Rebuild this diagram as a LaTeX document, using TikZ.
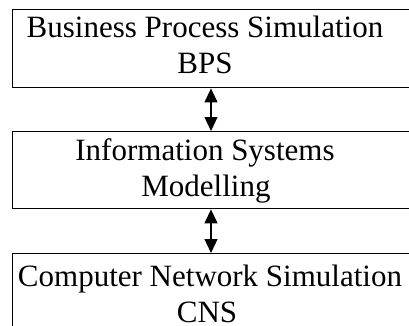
\documentclass[tikz,border=0pt]{standalone}
\usepackage{fontspec}
\setmainfont{Liberation Serif}
\usetikzlibrary{arrows.meta}
\begin{document}
\begin{tikzpicture}[x=1pt,y=-1pt,
  boxstyle/.style={draw, line width=1.4pt, rectangle, inner sep=0pt},
  txt/.style={anchor=base, inner sep=0pt, font=\fontsize{31}{36}\selectfont},
  link/.style={line width=1.2pt, {Triangle[width=13pt,length=14pt]}-{Triangle[width=13pt,length=14pt]}}]
\useasboundingbox (0,0) rectangle (409,325);
\node[boxstyle, minimum width=410pt, minimum height=78pt, anchor=north west] (b1) at (12,9) {};
\node[boxstyle, minimum width=410pt, minimum height=77pt, anchor=north west] (b2) at (12,131) {};
\node[boxstyle, minimum width=410pt, minimum height=90pt, anchor=north west] (b3) at (12,253) {};
\node[txt] (t1a) at (205,37.3) {Business Process Simulation};
\node[txt] (t1b) at (205,73.5) {BPS};
\node[txt] (t2a) at (205,160.7) {Information Systems};
\node[txt] (t2b) at (206,196.7) {Modelling};
\node[txt] (t3a) at (210,286.7) {Computer Network Simulation};
\node[txt] (t3b) at (207,322.7) {CNS};
\coordinate (ax) at (211,0);
\draw[link] (b1.south -| ax) -- (b2.north -| ax);
\draw[link] (b2.south -| ax) -- (b3.north -| ax);
\end{tikzpicture}
\end{document}
